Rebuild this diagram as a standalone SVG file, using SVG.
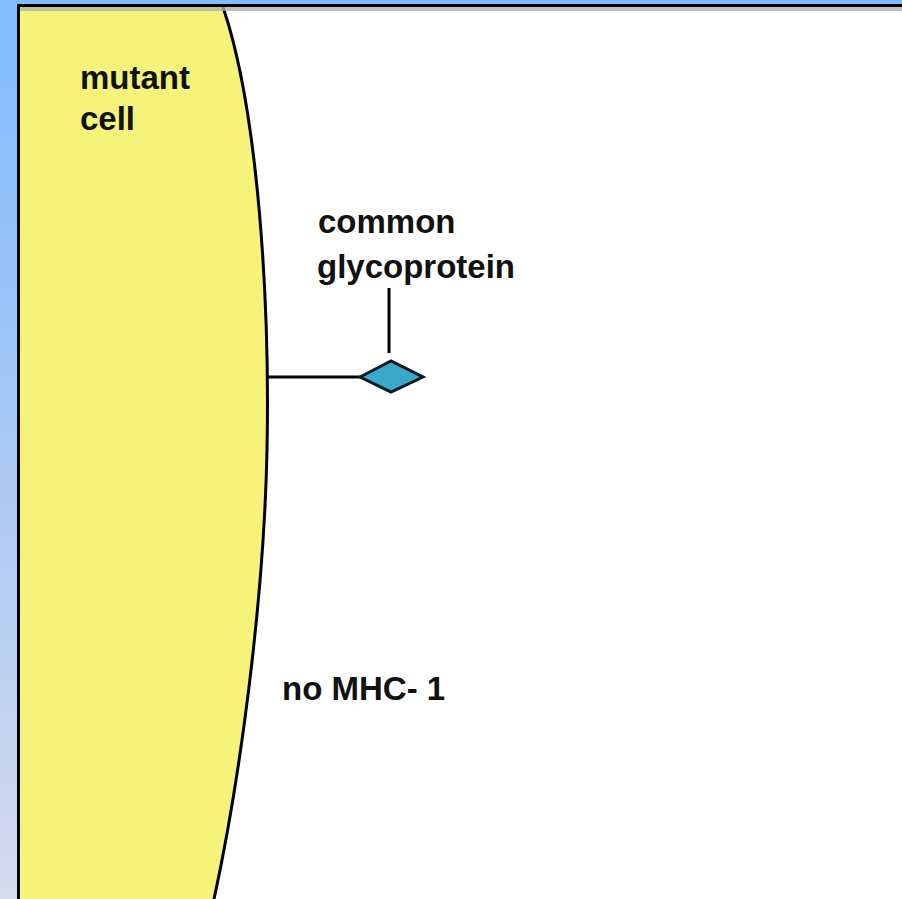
<svg xmlns="http://www.w3.org/2000/svg" width="902" height="899" viewBox="0 0 902 899">
<defs>
<linearGradient id="bg" x1="0" y1="0" x2="0" y2="1">
<stop offset="0" stop-color="#80bcff"/>
<stop offset="0.5" stop-color="#a8c8f4"/>
<stop offset="1" stop-color="#d6dbee"/>
</linearGradient>
<style>
.lbl{font-family:"Liberation Sans",Arial,sans-serif;font-weight:bold;font-size:33px;fill:#111}
.ln{stroke:#000;stroke-width:3;fill:none}
</style>
</defs>
<rect x="0" y="0" width="902" height="899" fill="url(#bg)"/>
<rect x="20" y="7" width="882" height="892" fill="#ffffff"/>
<g id="cell">
<path d="M20,7 L223,7 C258,110 270,300 267,450 C264,600 240,780 214,899 L20,899 Z" fill="#f5f37a"/>
<path d="M223,7 C258,110 270,300 267,450 C264,600 240,780 214,899" class="ln"/>
<text class="lbl" x="80" y="89">mutant</text>
<text class="lbl" x="80" y="130">cell</text>
</g>
<rect x="20" y="7" width="882" height="4" fill="#b0b0b0" opacity="0.8"/>
<rect x="17" y="4" width="885" height="3" fill="#000"/>
<rect x="17" y="4" width="3" height="895" fill="#000"/>
<g id="connectors">
<line x1="267" y1="377" x2="361" y2="377" class="ln" stroke-width="2.5"/>
<line x1="389" y1="288" x2="389" y2="353" class="ln" stroke-width="2.5"/>
</g>
<g id="glycoprotein">
<polygon points="360,377 391,361 423,377 391,392" fill="#3aa8c8" stroke="#0a1a20" stroke-width="3"/>
<text class="lbl" x="318" y="233">common</text>
<text class="lbl" x="317" y="278">glycoprotein</text>
</g>
<g id="mhc">
<text class="lbl" x="282" y="700">no MHC- 1</text>
</g>
</svg>
